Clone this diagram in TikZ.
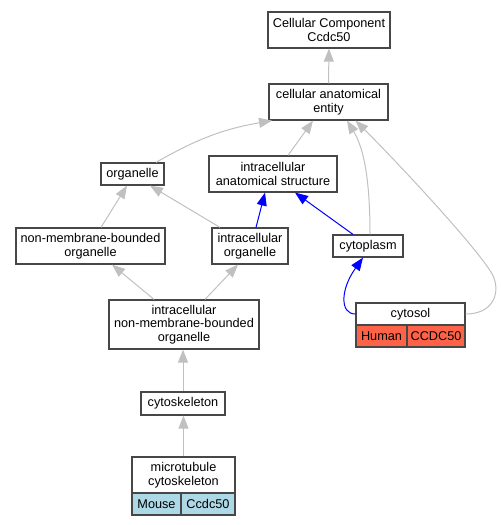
\documentclass[tikz,border=0pt]{standalone}
\usepackage{fontspec}
\setmainfont{Liberation Sans}
\usetikzlibrary{arrows.meta}
\definecolor{edgegray}{HTML}{C0C0C0}
\definecolor{boxline}{HTML}{474747}
\definecolor{mouseblue}{HTML}{ADD8E6}
\definecolor{humanred}{HTML}{FF6347}
\begin{document}
\begin{tikzpicture}[x=1bp,y=-1bp,
  box/.style={draw=boxline, line width=1.2bp, fill=white, inner sep=0pt, align=center,
    font=\fontsize{12.7bp}{13.6bp}\selectfont},
  gedge/.style={draw=edgegray, line width=1bp, -{Triangle[length=13bp,width=10bp]}},
  bedge/.style={draw=blue, line width=1bp, -{Triangle[length=13bp,width=10bp]}}]
\useasboundingbox (0,0) rectangle (501,525);

\node[box, minimum width=122bp, minimum height=36bp] (cc) at (329,30) {Cellular Component\\Ccdc50};
\node[box, minimum width=119bp, minimum height=36bp] (cae) at (328.5,102) {cellular anatomical\\entity};
\node[box, minimum width=63bp, minimum height=22bp] (org) at (132.5,174) {organelle};
\node[box, minimum width=128bp, minimum height=36bp] (ias) at (273,174) {intracellular\\anatomical structure};
\node[box, minimum width=149bp, minimum height=36bp] (nmbo) at (90.5,246) {non-membrane-bounded\\organelle};
\node[box, minimum width=76bp, minimum height=36bp] (io) at (250,246) {intracellular\\organelle};
\node[box, minimum width=70bp, minimum height=22bp] (cyto) at (368,246) {cytoplasm};
\node[box, minimum width=150bp, minimum height=49bp] (inmbo) at (184,324.5) {intracellular\\non-membrane-bounded\\organelle};
\node[box, minimum width=84bp, minimum height=23bp] (csk) at (183,403.5) {cytoskeleton};
\node[box, minimum width=103bp, minimum height=36bp] (mtc) at (183.5,475) {microtubule\\cytoskeleton};
\node[box, fill=mouseblue, minimum width=49bp, minimum height=22bp] (mouse) at (156.5,504) {Mouse};
\node[box, fill=mouseblue, minimum width=54bp, minimum height=22bp] (mgene) at (208,504) {Ccdc50};
\node[box, minimum width=109bp, minimum height=22bp] (cytosol) at (410.5,314) {cytosol};
\node[box, fill=humanred, minimum width=51bp, minimum height=22bp] (human) at (381.5,336) {Human};
\node[box, fill=humanred, minimum width=58bp, minimum height=22bp] (hgene) at (436,336) {CCDC50};

% gray edges
\draw[gedge] (cae.north) -- (cc.south);
\draw[gedge] ([xshift=23.5bp]org.north) to[bend left=10] ([xshift=-56.5bp]cae.south);
\draw[gedge] ([xshift=15bp]ias.north) -- ([xshift=-15.5bp]cae.south);
\draw[gedge] ([xshift=2bp]cyto.north) .. controls (370,185) and (365,150) .. ([xshift=18.5bp]cae.south);
\draw[gedge] (cytosol.east) .. controls (492,314) and (500,295) .. (494,278)
  .. controls (488,260) and (405,170) .. ([xshift=27bp]cae.south);
\draw[gedge] ([xshift=10.5bp]nmbo.north) -- ([xshift=-5.5bp]org.south);
\draw[gedge] ([xshift=-30bp]io.north) -- ([xshift=17.5bp]org.south);
\draw[gedge] ([xshift=-30bp]inmbo.north) -- ([xshift=21.5bp]nmbo.south);
\draw[gedge] ([xshift=21bp]inmbo.north) -- ([xshift=-12bp]io.south);
\draw[gedge] (csk.north) -- (csk.north |- inmbo.south);
\draw[gedge] (mtc.north) -- (mtc.north |- csk.south);

% blue edges
\draw[bedge] ([xshift=6bp]io.north) -- ([xshift=-8bp]ias.south);
\draw[bedge] ([xshift=-15bp]cyto.north) -- ([xshift=22bp]ias.south);
\draw[bedge] (cytosol.west) .. controls (340,314) and (340,290) .. ([xshift=-5bp]cyto.south);
\end{tikzpicture}
\end{document}
